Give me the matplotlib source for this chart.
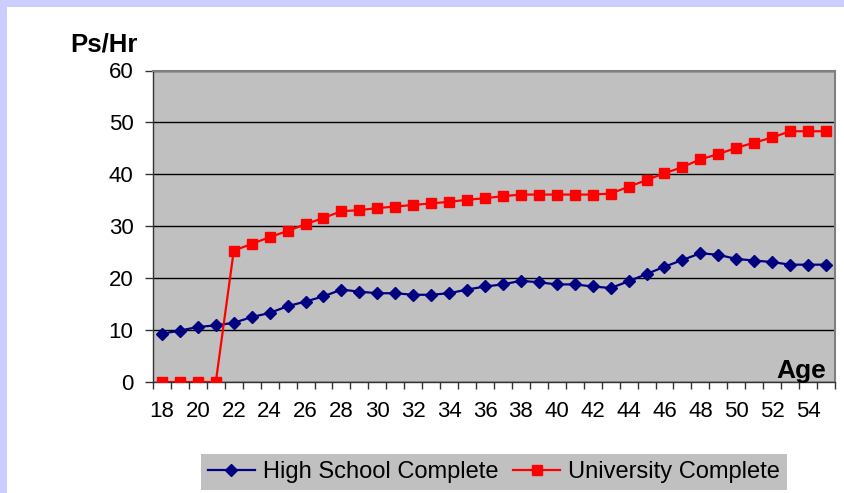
import numpy as np
import matplotlib.pyplot as plt
from matplotlib.patches import Rectangle
from matplotlib.lines import Line2D

plt.rcParams['font.family'] = ['Liberation Sans', 'DejaVu Sans']

# datos (edad 18 a 55)
ages = list(range(18, 56))
high_school = [9.3, 9.9, 10.6, 10.9, 11.4, 12.5, 13.3, 14.6, 15.5, 16.5,
               17.8, 17.4, 17.1, 17.1, 16.8, 16.8, 17.1, 17.8, 18.4, 18.8,
               19.5, 19.2, 18.8, 18.8, 18.4, 18.1, 19.4, 20.8, 22.2, 23.5,
               24.8, 24.5, 23.7, 23.4, 23.1, 22.6, 22.6, 22.6]
university = [0, 0, 0, 0, 25.3, 26.6, 27.9, 29.1, 30.4, 31.6,
              32.9, 33.1, 33.5, 33.8, 34.1, 34.4, 34.7, 35.1, 35.4, 35.8,
              36.1, 36.1, 36.1, 36.1, 36.1, 36.3, 37.6, 38.9, 40.2, 41.4,
              42.9, 43.9, 45.1, 46.1, 47.1, 48.3, 48.3, 48.3]
series_names = ['High School Complete', 'University Complete']
y_ticks = [0, 10, 20, 30, 40, 50, 60]

W, H = 845, 493
fig = plt.figure(figsize=(W / 100, H / 100), dpi=100)
fig.patch.set_facecolor('white')

# marco lavanda (arriba e izquierda)
fig.patches.append(Rectangle((0, 1 - 7 / H), 1, 7 / H, transform=fig.transFigure,
                             facecolor='#CCCCFF', edgecolor='none', zorder=0))
fig.patches.append(Rectangle((0, 0), 7 / W, 1, transform=fig.transFigure,
                             facecolor='#CCCCFF', edgecolor='none', zorder=0))

left, right, top, bottom = 153, 835, 70.5, 382
ax = fig.add_axes([left / W, (H - bottom) / H, (right - left) / W, (bottom - top) / H])
ax.set_facecolor('#C0C0C0')

x = np.arange(len(ages))
ax.plot(x, high_school, color='#000080', lw=1.6, marker='D', markersize=6.5,
        label=series_names[0], zorder=3)
ax.plot(x, university, color='#FF0000', lw=1.6, marker='s', markersize=7.5,
        label=series_names[1], zorder=3)

ax.set_xlim(-0.5, len(ages) - 0.5)
ax.set_ylim(0, 60)
ax.set_yticks(y_ticks)
ax.yaxis.grid(True, color='black', lw=1)
ax.set_axisbelow(True)

ax.set_xticks(x[::2])
ax.set_xticklabels([str(a) for a in ages[::2]])
ax.set_xticks(np.arange(-0.5, len(ages), 1), minor=True)
ax.tick_params(axis='x', which='major', length=0, pad=14, labelsize=16)
ax.tick_params(axis='x', which='minor', length=5, width=1, color='#333333', direction='out')
ax.tick_params(axis='y', length=6, width=1, color='#333333', pad=8, labelsize=16)

for side in ['left', 'bottom']:
    ax.spines[side].set_color('#333333')
    ax.spines[side].set_linewidth(1)
for side in ['top', 'right']:
    ax.spines[side].set_color('#808080')
    ax.spines[side].set_linewidth(1.5)

fig.text(70 / W, (H - 51) / H, 'Ps/Hr', fontsize=18.5, fontweight='bold',
         ha='left', va='baseline')
fig.text(826 / W, (H - 377.7) / H, 'Age', fontsize=19, fontweight='bold',
         ha='right', va='baseline')

handles = [Line2D([], [], color='#000080', lw=1.6, marker='D', markersize=6.5),
           Line2D([], [], color='#FF0000', lw=1.6, marker='s', markersize=7.5)]
leg = fig.legend(handles, series_names, loc='upper center',
                 bbox_to_anchor=(494 / W, (H - 454) / H), ncol=2, fontsize=17,
                 frameon=True, fancybox=False, facecolor='#C0C0C0', edgecolor='none',
                 framealpha=1, handlelength=2.0, handletextpad=0.35,
                 columnspacing=0.6, borderpad=0.3, borderaxespad=0)

fig.savefig('out.png', dpi=100)
